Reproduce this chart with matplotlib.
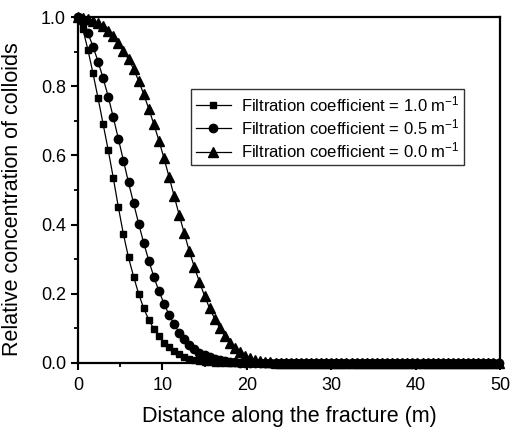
import numpy as np
import matplotlib
matplotlib.use("Agg")
import matplotlib.pyplot as plt
from matplotlib.ticker import MultipleLocator, FormatStrFormatter

plt.rcParams['font.family'] = ['Liberation Sans', 'DejaVu Sans']
plt.rcParams['mathtext.default'] = 'regular'

# distance along the fracture (m), one sample every 0.6 m
distance = np.arange(0, 50.01, 0.6)

# relative concentration (values beyond the list are ~0)
conc_k10 = [1.0, 0.965, 0.905, 0.837, 0.765, 0.69, 0.615, 0.535, 0.45, 0.372,
            0.305, 0.25, 0.2, 0.158, 0.125, 0.098, 0.077, 0.059, 0.045, 0.034,
            0.025, 0.018, 0.013, 0.009, 0.006, 0.004, 0.002, 0.001]
conc_k05 = [1.0, 0.985, 0.953, 0.915, 0.871, 0.823, 0.77, 0.71, 0.648, 0.585,
            0.522, 0.462, 0.403, 0.347, 0.296, 0.249, 0.208, 0.172, 0.139, 0.112,
            0.088, 0.068, 0.052, 0.04, 0.03, 0.022, 0.016, 0.011, 0.008, 0.005,
            0.003, 0.002, 0.001]
conc_k00 = [1.0, 0.998, 0.995, 0.99, 0.983, 0.973, 0.96, 0.944, 0.925, 0.903,
            0.878, 0.85, 0.816, 0.777, 0.735, 0.69, 0.643, 0.592, 0.538, 0.483,
            0.428, 0.375, 0.323, 0.277, 0.234, 0.194, 0.158, 0.128, 0.101, 0.078,
            0.058, 0.043, 0.031, 0.021, 0.014, 0.009, 0.006, 0.004, 0.002, 0.001]

labels = ['Filtration coefficient = 1.0 m$^{-1}$',
          'Filtration coefficient = 0.5 m$^{-1}$',
          'Filtration coefficient = 0.0 m$^{-1}$']
markers = ['s', 'o', '^']
sizes = [5, 6, 6.5]


def pad(vals):
    out = np.zeros(len(distance))
    out[:len(vals)] = vals
    return out


fig = plt.figure(figsize=(5.12, 4.34), dpi=100)
ax = fig.add_axes([0.152, 0.1636, 0.825, 0.797])

for vals, lab, m, ms in zip([conc_k10, conc_k05, conc_k00], labels, markers, sizes):
    ax.plot(distance, pad(vals), color='black', lw=0.9, marker=m, ms=ms,
            label=lab, clip_on=False, zorder=3)

ax.set_xlim(0, 50)
ax.set_ylim(0, 1.0)
ax.xaxis.set_major_locator(MultipleLocator(10))
ax.xaxis.set_minor_locator(MultipleLocator(5))
ax.yaxis.set_major_locator(MultipleLocator(0.2))
ax.yaxis.set_minor_locator(MultipleLocator(0.1))
ax.yaxis.set_major_formatter(FormatStrFormatter('%.1f'))

for s in ax.spines.values():
    s.set_linewidth(1.6)
ax.tick_params(which='major', direction='out', length=5, width=1.5, labelsize=13)
ax.tick_params(axis='x', which='major', pad=5)
ax.tick_params(which='minor', direction='out', length=3, width=1.3)

ax.set_xlabel('Distance along the fracture (m)', fontsize=15.5)
ax.set_ylabel('Relative concentration of colloids', fontsize=15.5)
ax.xaxis.set_label_coords(0.5, -0.125)
ax.yaxis.set_label_coords(-0.13, 0.474)

leg = ax.legend(loc='upper left', bbox_to_anchor=(0.267, 0.792), borderaxespad=0,
                fontsize=12, frameon=True, fancybox=False, handlelength=2.1,
                handletextpad=0.6, borderpad=0.3, labelspacing=0.2)
leg.get_frame().set_edgecolor('black')
leg.get_frame().set_linewidth(1.0)

fig.savefig('out.png', dpi=100)
